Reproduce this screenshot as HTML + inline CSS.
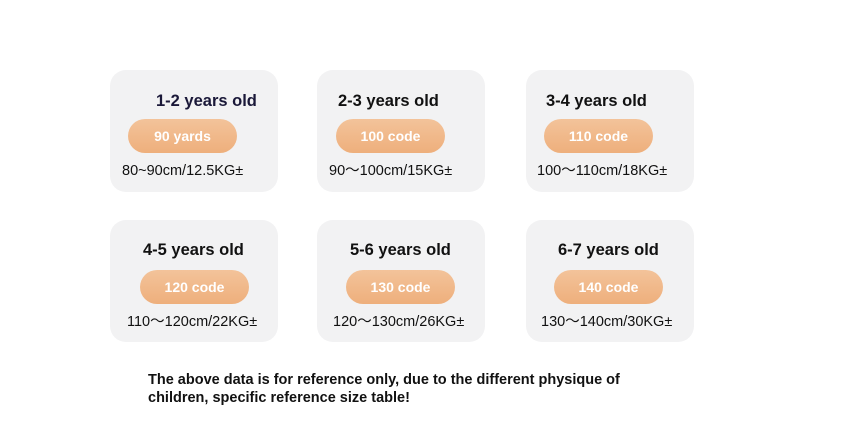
<!DOCTYPE html><html><head><style>
body{margin:0;width:853px;height:439px;background:#fff;font-family:"Liberation Sans",sans-serif;position:relative;overflow:hidden}
.c{position:absolute;width:168px;height:122px;background:#f2f2f3;border-radius:16px}
.t{position:absolute;font-weight:bold;font-size:16.5px;color:#111;white-space:nowrap}
.p{position:absolute;width:109px;height:34px;border-radius:17px;background:linear-gradient(#f3c39a,#eeaf7c);color:#fff;font-weight:bold;font-size:14px;text-align:center;line-height:34px}
.s{position:absolute;font-size:14.5px;line-height:18px;height:18px;color:#111;white-space:nowrap}
.s span{display:inline-block;line-height:18px;vertical-align:top}
.n{position:absolute;left:148px;font-weight:bold;font-size:14.5px;color:#111;white-space:nowrap}
</style></head><body>
<div class="c" style="left:110px;top:70px"></div>
<div class="c" style="left:317px;top:70px"></div>
<div class="c" style="left:526px;top:70px"></div>
<div class="c" style="left:110px;top:220px"></div>
<div class="c" style="left:317px;top:220px"></div>
<div class="c" style="left:526px;top:220px"></div>
<div class="t" style="left:156px;top:92px;color:#1a1838">1-2 years old</div>
<div class="t" style="left:338px;top:92px">2-3 years old</div>
<div class="t" style="left:546px;top:92px">3-4 years old</div>
<div class="t" style="left:143px;top:241px">4-5 years old</div>
<div class="t" style="left:350px;top:241px">5-6 years old</div>
<div class="t" style="left:558px;top:241px">6-7 years old</div>
<div class="p" style="left:128px;top:119px">90 yards</div>
<div class="p" style="left:336px;top:119px">100 code</div>
<div class="p" style="left:544px;top:119px">110 code</div>
<div class="p" style="left:140px;top:270px">120 code</div>
<div class="p" style="left:346px;top:270px">130 code</div>
<div class="p" style="left:554px;top:270px">140 code</div>
<div class="s" style="left:122px;top:162px">80~90cm/12.5KG±</div>
<div class="s" style="left:329px;top:162px">90<span>～</span>100cm/15KG±</div>
<div class="s" style="left:537px;top:162px">100<span>～</span>110cm/18KG±</div>
<div class="s" style="left:127px;top:313px">110<span>～</span>120cm/22KG±</div>
<div class="s" style="left:333px;top:313px">120<span>～</span>130cm/26KG±</div>
<div class="s" style="left:541px;top:313px">130<span>～</span>140cm/30KG±</div>
<div class="n" style="top:372px">The above data is for reference only, due to the different physique of</div>
<div class="n" style="top:390px">children, specific reference size table!</div>
</body></html>
